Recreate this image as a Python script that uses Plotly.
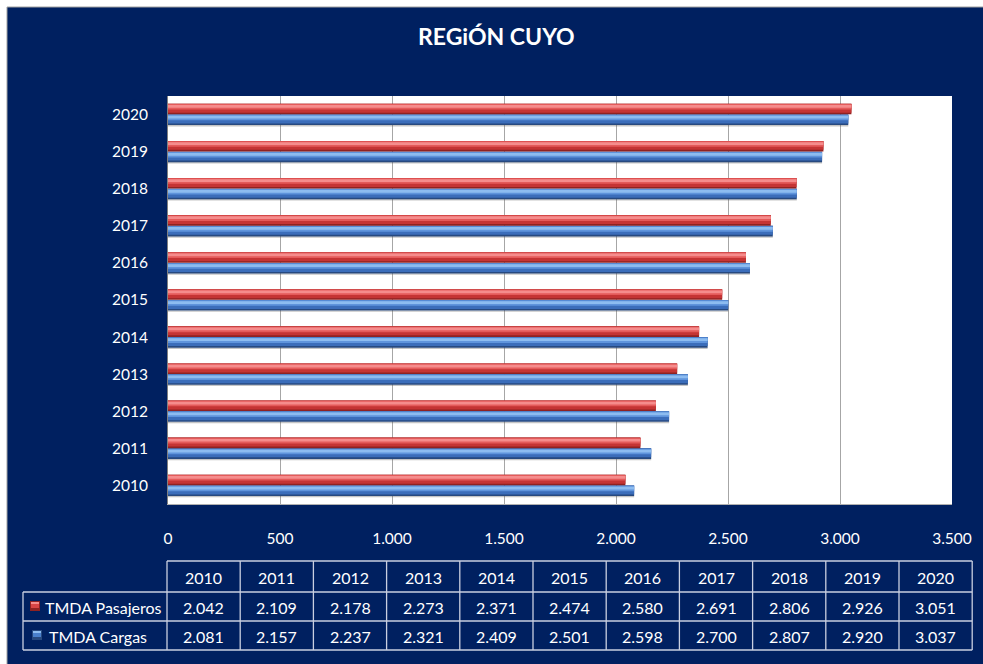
import plotly.graph_objects as go

# ---------------- data ----------------
years = ["2010", "2011", "2012", "2013", "2014", "2015", "2016", "2017", "2018", "2019", "2020"]
tmda_pasajeros = [2042, 2109, 2178, 2273, 2371, 2474, 2580, 2691, 2806, 2926, 3051]
tmda_cargas = [2081, 2157, 2237, 2321, 2409, 2501, 2598, 2700, 2807, 2920, 3037]
series_names = ["TMDA Pasajeros", "TMDA Cargas"]
x_ticks = [0, 500, 1000, 1500, 2000, 2500, 3000, 3500]
title_text = "REGiÓN CUYO"

# ---------------- layout constants ----------------
W, H = 983, 664
PL, PR, PT, PB = 168, 952, 96, 504  # plot area in pixels
NAVY = "#002060"
FONT = "Lato"


def px(xp):
    return (xp - PL) / (PR - PL)


def py(yp):
    return (PB - yp) / (PB - PT)


fig = go.Figure()

# gradient-like cylinder bars made of stacked overlay layers
def add_bar(values, offset, width, stops, name):
    for lo, hi, col in stops:
        fig.add_trace(go.Bar(
            y=years, x=values, orientation="h",
            offset=offset + lo * width, width=(hi - lo) * width,
            marker=dict(color=col, line=dict(width=0)),
            name=name, showlegend=False, hoverinfo="x+name",
        ))

BW = 0.285
# shadow under the pair
fig.add_trace(go.Bar(
    y=years, x=tmda_cargas, orientation="h", offset=-BW - 0.035, width=0.04,
    marker=dict(color="rgba(90,90,90,0.35)", line=dict(width=0)),
    showlegend=False, hoverinfo="skip",
))
# Cargas (blue, lower)
add_bar(tmda_cargas, -BW, BW, [
    (0.0, 1.0, "#27497f"),
    (0.15, 1.0, "#3b6dba"),
    (0.45, 0.97, "#5f94dc"),
    (0.62, 0.88, "#8dbcf0"),
], series_names[1])
# Pasajeros (red, upper)
add_bar(tmda_pasajeros, 0.005, BW, [
    (0.0, 1.0, "#8f2222"),
    (0.15, 1.0, "#c53434"),
    (0.45, 0.97, "#e45a5a"),
    (0.62, 0.88, "#f58c8c"),
], series_names[0])

shapes = []
annotations = []

# white outer strips + frame border
shapes.append(dict(type="rect", xref="paper", yref="paper", x0=px(0), x1=px(W), y0=py(0), y1=py(7),
                   fillcolor="white", line=dict(width=0), layer="above"))
shapes.append(dict(type="rect", xref="paper", yref="paper", x0=px(0), x1=px(7), y0=py(0), y1=py(H),
                   fillcolor="white", line=dict(width=0), layer="above"))
shapes.append(dict(type="line", xref="paper", yref="paper", x0=px(7), x1=px(W), y0=py(7), y1=py(7),
                   line=dict(color="#a0a0a0", width=1), layer="above"))
shapes.append(dict(type="line", xref="paper", yref="paper", x0=px(7), x1=px(7), y0=py(7), y1=py(H),
                   line=dict(color="#a0a0a0", width=1), layer="above"))

# title
annotations.append(dict(text=f"<b>{title_text}</b>", xref="paper", yref="paper",
                        x=px(496), y=py(36), xanchor="center", yanchor="middle", showarrow=False,
                        font=dict(family=FONT, size=23, color="white")))

# ---------------- data table ----------------
T_LEFT, T_X0, COLW = 23, 167, 73.2
ROWS = [561, 592, 621, 650]
BORDER = dict(color="#c9cfe0", width=1.3)
n = len(years)
T_RIGHT = T_X0 + n * COLW

shapes.append(dict(type="line", xref="paper", yref="paper", x0=px(T_X0), x1=px(T_RIGHT),
                   y0=py(ROWS[0]), y1=py(ROWS[0]), line=BORDER, layer="above"))
for r in ROWS[1:]:
    shapes.append(dict(type="line", xref="paper", yref="paper", x0=px(T_LEFT), x1=px(T_RIGHT),
                       y0=py(r), y1=py(r), line=BORDER, layer="above"))
shapes.append(dict(type="line", xref="paper", yref="paper", x0=px(T_LEFT), x1=px(T_LEFT),
                   y0=py(ROWS[1]), y1=py(ROWS[3]), line=BORDER, layer="above"))
for i in range(n + 1):
    xx = T_X0 + i * COLW
    shapes.append(dict(type="line", xref="paper", yref="paper", x0=px(xx), x1=px(xx),
                       y0=py(ROWS[0]), y1=py(ROWS[3]), line=BORDER, layer="above"))


def fmt(v):
    return f"{v:,}".replace(",", ".")


TFS = 16
row_centers = [(ROWS[k] + ROWS[k + 1]) / 2 for k in range(3)]
for i, yr in enumerate(years):
    cx = T_X0 + (i + 0.5) * COLW
    for text, cy in [(yr, row_centers[0]), (fmt(tmda_pasajeros[i]), row_centers[1]),
                     (fmt(tmda_cargas[i]), row_centers[2])]:
        annotations.append(dict(text=text, xref="paper", yref="paper", x=px(cx), y=py(cy + 1),
                                xanchor="center", yanchor="middle", showarrow=False,
                                font=dict(family=FONT, size=TFS, color="white")))

# legend keys in the table
def key(x0, y0, dark, mid, light):
    shapes.append(dict(type="rect", xref="paper", yref="paper", x0=px(x0), x1=px(x0 + 10),
                       y0=py(y0 + 10), y1=py(y0), fillcolor=dark, line=dict(width=0), layer="above"))
    shapes.append(dict(type="rect", xref="paper", yref="paper", x0=px(x0 + 1), x1=px(x0 + 9),
                       y0=py(y0 + 7), y1=py(y0 + 1), fillcolor=mid, line=dict(width=0), layer="above"))
    shapes.append(dict(type="rect", xref="paper", yref="paper", x0=px(x0 + 1), x1=px(x0 + 9),
                       y0=py(y0 + 3), y1=py(y0 + 1), fillcolor=light, line=dict(width=0), layer="above"))

key(30, 601, "#8f2222", "#d84545", "#f58c8c")
key(32, 630, "#27497f", "#4a80cc", "#8dbcf0")
annotations.append(dict(text=series_names[0], xref="paper", yref="paper", x=px(43), y=py(row_centers[1] + 1),
                        xanchor="left", yanchor="middle", showarrow=False,
                        font=dict(family=FONT, size=TFS, color="white")))
annotations.append(dict(text=series_names[1], xref="paper", yref="paper", x=px(47), y=py(row_centers[2] + 1),
                        xanchor="left", yanchor="middle", showarrow=False,
                        font=dict(family=FONT, size=TFS, color="white")))

fig.update_layout(
    width=W, height=H,
    margin=dict(l=PL, r=W - PR, t=PT, b=H - PB, pad=0),
    paper_bgcolor=NAVY, plot_bgcolor="white",
    barmode="overlay",
    separators=",.",
    showlegend=False,
    font=dict(family=FONT, size=15, color="white"),
    xaxis=dict(range=[0, 3500], tickvals=x_ticks, tickformat=",d", separatethousands=True,
               showgrid=True, gridcolor="#a6a6a6", gridwidth=1,
               showline=True, linecolor="#b0b0b0", linewidth=1, zeroline=False,
               ticks="", ticklabelstandoff=20,
               tickfont=dict(family=FONT, size=15.5, color="white"), fixedrange=True),
    yaxis=dict(type="category", categoryorder="array", categoryarray=years,
               range=[-0.5, len(years) - 0.5],
               showgrid=False, showline=True, linecolor="#7f7f7f", linewidth=1,
               ticks="", ticklabelstandoff=16,
               tickfont=dict(family=FONT, size=15.5, color="white"), fixedrange=True),
    shapes=shapes,
    annotations=annotations,
)

fig.write_html(
    "out.html",
    config={"displayModeBar": False},
    post_script="document.body.style.margin='0';document.body.style.overflow='hidden';",
)
